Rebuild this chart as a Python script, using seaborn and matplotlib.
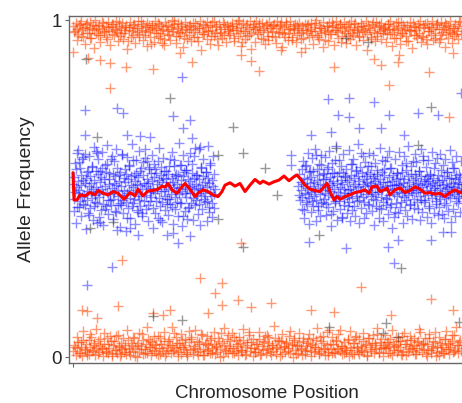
import numpy as np
import pandas as pd
import matplotlib
matplotlib.use("Agg")
import matplotlib.pyplot as plt
import seaborn as sns

sns.set_theme(style="ticks")
plt.rcParams['font.family'] = ['Liberation Sans', 'DejaVu Sans']

# ---------------- data (allele frequency in permille, positions in arbitrary chromosome units) ----------------
# homozygous band near 1 (evenly spaced SNPs along the chromosome)
top_band_span = (0, 389)
top_band_af = [
    982,965,991,974,958,987,996,969,951,979,988,962,975,993,947,984,970,999,961,977,
    986,955,972,990,966,981,943,995,968,978,959,989,973,997,964,983,952,976,992,960,
    971,985,938,980,994,967,956,988,975,963,998,949,982,970,987,957,979,991,965,974,
    930,984,969,996,977,953,989,962,981,972,945,993,966,985,958,978,1000,968,987,954,
    976,990,961,983,971,947,995,964,980,957,986,973,992,950,969,982,939,975,998,963,
    988,959,978,994,966,984,952,971,997,960,981,944,989,974,963,993,956,979,986,968,
    957,983,992,970,948,987,976,999,962,980,935,991,967,985,954,973,996,961,978,989,
    972,996,958,982,969,990,943,977,988,964,953,994,981,966,985,949,975,998,960,984,
    993,964,979,950,987,973,961,996,940,983,970,989,957,976,992,965,981,946,988,971,
    961,987,974,992,955,980,968,999,951,985,977,962,994,971,942,983,966,990,958,979,
    984,970,996,963,978,989,936,975,993,960,982,952,987,969,998,957,974,991,965,980,
    950,991,967,983,974,996,958,986,971,944,989,963,979,995,954,981,968,992,961,976,
    978,959,988,972,997,965,983,947,990,969,977,955,994,962,985,974,939,986,970,993,
    966,992,956,980,971,989,962,998,953,984,975,943,991,968,980,957,996,973,948,985,
    987,973,945,994,964,979,990,958,983,970,996,961,977,952,988,967,982,993,959,975,
]
top_band2_span = (2, 387)
top_band2_af = [
    968,941,985,952,977,929,990,960,946,973,918,983,957,936,995,964,949,979,925,988,
    955,971,938,993,962,944,980,913,969,951,986,933,975,958,997,942,966,922,984,950,
    978,935,961,990,947,970,927,983,956,940,974,998,931,965,953,987,920,972,945,981,
    937,963,992,949,976,910,959,985,943,968,930,994,954,979,926,961,948,989,934,973,
    960,982,939,971,952,996,924,966,944,987,957,915,978,936,963,991,947,969,929,984,
    942,975,953,988,932,964,981,921,958,995,940,972,950,977,934,986,962,945,970,917,
    984,949,967,930,991,956,943,976,919,963,982,938,959,995,926,971,948,987,953,966,
    933,978,945,962,989,927,970,954,983,941,965,912,976,951,994,937,960,985,944,973,
    969,936,988,958,923,974,947,993,930,962,980,952,939,971,916,983,957,946,979,935,
    951,987,928,966,979,942,961,990,934,955,972,920,986,948,964,931,977,958,943,997,
]
# homozygous band near 0
bottom_band_span = (0, 389)
bottom_band_af = [
    18,35,7,26,44,12,29,3,51,22,38,15,9,31,58,20,41,6,27,47,
    14,33,24,2,39,17,55,11,28,46,8,36,21,63,13,30,4,42,25,16,
    37,10,49,23,5,34,19,57,27,1,43,15,32,68,9,24,40,12,52,29,
    6,45,20,36,13,61,26,8,38,17,48,3,31,22,54,11,35,19,72,28,
    41,16,30,9,50,24,37,14,2,44,21,59,10,33,27,47,7,39,18,64,
    25,5,42,19,35,12,56,28,40,8,31,15,46,23,70,4,37,20,53,13,
    32,48,11,27,60,17,38,6,43,22,14,51,29,9,36,75,18,44,3,26,
    15,39,24,52,7,33,20,45,12,66,28,41,5,35,19,57,10,30,48,23,
    47,8,29,16,43,26,62,13,37,1,50,21,34,11,45,27,6,55,18,32,
    20,53,35,4,40,14,30,49,23,9,58,17,42,26,7,36,15,80,24,11,
    38,12,46,25,67,19,33,8,44,28,16,52,3,31,21,41,10,59,27,14,
    9,34,22,48,15,39,5,56,30,18,43,11,36,24,69,13,45,28,2,37,
    26,44,13,31,54,7,40,21,35,16,47,29,10,62,19,38,6,50,23,33,
    51,17,37,10,28,46,22,73,14,41,25,8,39,20,57,12,34,27,45,4,
    30,6,43,19,36,13,52,24,40,9,31,48,15,65,22,37,11,44,18,28,
]
bottom_band2_span = (2, 387)
bottom_band2_af = [
    31,58,12,44,76,23,5,49,67,18,37,84,9,53,28,71,14,40,62,3,
    46,20,65,33,8,55,27,79,15,42,60,2,36,70,24,51,11,88,30,47,
    17,63,39,6,57,26,74,13,48,35,90,21,59,4,43,68,29,52,10,77,
    54,25,81,16,45,69,7,38,61,22,50,13,73,32,56,1,41,86,19,64,
    28,72,11,49,34,58,20,83,6,44,66,27,53,15,39,75,9,47,62,24,
    60,14,37,92,26,51,3,68,32,45,18,78,40,57,10,35,71,23,48,8,
    42,67,19,55,30,85,12,46,63,25,74,5,38,59,16,50,28,80,34,13,
    21,49,76,8,43,61,29,54,17,70,36,2,57,24,66,41,87,15,52,31,
    65,27,45,12,79,33,58,20,48,6,72,39,14,62,26,55,9,44,82,35,
    38,56,4,69,22,47,73,16,60,30,11,53,77,25,42,64,18,89,36,51,
]
# heterozygous SNPs, left region
het_left_span = (0, 142)
het_left_af = [
    512,468,534,491,557,503,445,521,486,578,497,462,540,509,475,526,593,482,515,451,
    530,494,467,552,508,421,537,489,516,472,563,499,447,525,481,610,504,458,543,493,
    476,519,402,533,498,561,484,455,527,506,439,548,491,574,465,512,529,483,452,587,
    501,542,470,517,488,536,431,509,561,477,495,523,456,549,507,482,600,466,531,492,
    518,459,544,487,413,528,496,571,473,510,537,449,503,584,468,521,490,546,437,514,
    485,533,466,509,552,478,498,426,541,515,463,592,506,480,529,452,517,565,489,502,
    547,474,521,496,443,535,488,557,462,513,499,581,471,526,408,540,494,460,518,530,
    492,553,479,506,527,455,544,498,469,587,511,484,532,446,519,503,567,475,538,490,
    461,512,539,484,501,570,457,524,493,536,418,548,486,510,474,555,499,441,527,505,
    523,487,456,545,508,472,531,498,619,466,514,540,481,502,453,528,496,561,477,510,
    497,537,470,519,488,550,463,505,531,444,516,491,576,479,524,458,508,543,485,499,
]
het_left2_span = (1, 141)
het_left2_af = [
    432,575,398,614,446,561,417,589,455,603,381,548,428,597,441,566,406,624,459,553,
    589,415,552,437,607,392,571,448,628,423,545,465,596,409,583,434,618,452,539,387,
    451,602,428,557,374,593,443,568,412,631,456,540,396,586,431,611,447,562,419,578,
    616,439,581,404,558,462,599,384,574,427,547,413,621,449,565,401,592,436,553,468,
    422,567,453,609,395,586,440,543,418,634,458,571,389,598,433,556,410,583,445,604,
    574,407,596,450,539,425,617,392,563,438,588,461,549,403,626,429,570,416,595,442,
]
# heterozygous SNPs, right region
het_right_span = (225, 389)
het_right_af = [
    506,481,543,467,520,495,558,474,512,436,531,488,569,459,502,527,483,549,471,515,
    489,534,462,508,551,477,519,493,598,465,526,501,447,539,484,513,570,458,497,528,
    542,470,511,486,529,455,504,563,480,517,492,535,423,509,547,476,521,498,584,463,
    478,516,537,491,464,550,503,482,526,411,512,545,469,500,533,487,557,474,518,495,
    525,461,499,541,486,572,471,508,530,448,514,490,553,477,503,538,466,521,494,606,
    492,547,474,513,528,459,506,536,483,520,497,566,452,510,543,479,517,489,532,468,
    537,484,522,467,501,555,490,513,442,529,505,476,548,495,518,461,540,508,581,473,
    470,519,496,534,481,509,562,453,523,498,539,485,511,430,527,502,546,477,514,489,
    511,532,461,504,549,487,517,474,529,493,575,466,507,536,481,520,499,455,543,497,
    486,524,501,470,543,512,489,531,459,516,495,552,478,509,538,467,504,585,491,522,
    528,465,513,495,536,480,521,448,507,544,490,516,473,532,501,560,484,511,463,526,
    497,541,478,519,502,469,555,488,525,510,457,537,493,514,476,548,505,482,530,499,
    473,508,532,490,517,561,484,503,527,462,540,496,519,479,512,471,535,501,488,514,
]
het_right2_span = (229, 388)
het_right2_af = [
    438,581,412,566,453,604,395,551,429,592,447,617,403,558,436,573,418,599,460,545,
    593,421,559,445,611,388,577,432,546,458,625,407,584,440,568,415,602,451,538,426,
    449,614,405,572,437,588,419,555,462,631,398,563,443,597,411,580,428,549,455,606,
    567,432,599,391,576,448,542,413,620,439,585,404,557,452,593,425,612,446,561,383,
    414,589,457,546,427,608,444,571,399,595,435,554,418,627,450,566,409,583,441,602,
    579,440,552,406,618,431,597,459,564,416,586,443,541,397,609,428,575,454,591,420,
    446,603,424,569,411,587,452,548,434,615,401,578,439,560,417,596,458,544,429,583,
]

# scattered outliers (position, allele frequency)
orange_out_pos = [0, 15, 27, 37, 53, 80, 37, 119, 107, 89, 168, 178, 186, 261, 301, 308, 326, 325, 316, 356, 376, 380, 208, 228,
                  49, 45, 9, 14, 24, 127, 149, 142, 149, 97, 90, 135, 80, 168, 165, 178, 198, 288, 358, 380, 238, 261, 318]
orange_out_af = [0.905, 0.887, 0.881, 0.872, 0.861, 0.855, 0.798, 0.875, 0.902, 0.932, 0.896, 0.878, 0.849, 0.861, 0.884, 0.866, 0.896, 0.875, 0.807, 0.846, 0.712, 0.902, 0.911, 0.905,
                 0.288, 0.151, 0.139, 0.136, 0.116, 0.234, 0.220, 0.190, 0.154, 0.139, 0.125, 0.130, 0.130, 0.338, 0.169, 0.148, 0.160, 0.208, 0.172, 0.139, 0.139, 0.134, 0.125]

blue_out_pos = [109, 12, 44, 50, 100, 117, 110, 12, 67, 77, 119, 127, 4, 24, 54,
                255, 276, 301, 265, 276, 316, 345, 365, 388, 286, 308, 238, 258, 331, 218, 218,
                24, 44, 57, 65, 94, 100, 105, 117, 39, 14,
                236, 273, 321, 315, 325, 358, 370, 378]
blue_out_af = [0.831, 0.733, 0.739, 0.724, 0.715, 0.703, 0.680, 0.659, 0.656, 0.653, 0.650, 0.623, 0.605, 0.605, 0.659,
               0.766, 0.769, 0.757, 0.718, 0.712, 0.718, 0.724, 0.718, 0.783, 0.680, 0.680, 0.659, 0.668, 0.659, 0.600, 0.570,
               0.397, 0.377, 0.383, 0.362, 0.362, 0.368, 0.338, 0.359, 0.267, 0.214,
               0.341, 0.323, 0.279, 0.326, 0.347, 0.347, 0.371, 0.371]

grey_pos = [13, 97, 24, 145, 160, 170, 192, 204, 263, 358, 345, 273, 295,
            17, 40, 80, 109, 145, 246, 170, 328, 256, 313, 310, 325, 386]
grey_af = [0.884, 0.769, 0.654, 0.600, 0.683, 0.605, 0.560, 0.480, 0.620, 0.742, 0.630, 0.946, 0.935,
           0.383, 0.400, 0.122, 0.110, 0.410, 0.362, 0.326, 0.264, 0.089, 0.100, 0.070, 0.060, 0.104]

# smoothed allele-frequency curve
smooth_pos = [0, 1, 4, 7, 12, 17, 22, 25, 30, 35, 40, 45, 51, 57, 62, 65, 70, 75, 80, 85, 89, 92, 95, 99, 104,
              107, 112, 117, 122, 125, 130, 135, 140, 145, 149, 152, 157, 162, 167, 172, 177, 182, 187, 190,
              196, 201, 206, 211, 216, 221, 224, 227, 232, 237, 242, 247, 254, 257, 261, 264, 267, 272, 277,
              282, 287, 292, 296, 299, 304, 307, 311, 314, 317, 322, 327, 332, 337, 342, 347, 352, 357, 362,
              367, 372, 377, 382, 387, 390]
smooth_af = [0.547, 0.466, 0.466, 0.481, 0.478, 0.488, 0.481, 0.494, 0.486, 0.481, 0.491, 0.486, 0.468, 0.488,
             0.478, 0.498, 0.478, 0.493, 0.494, 0.498, 0.507, 0.504, 0.515, 0.496, 0.486, 0.498, 0.515, 0.498,
             0.476, 0.486, 0.496, 0.491, 0.481, 0.476, 0.491, 0.510, 0.517, 0.507, 0.515, 0.491, 0.510, 0.527,
             0.515, 0.522, 0.513, 0.520, 0.525, 0.537, 0.523, 0.535, 0.540, 0.530, 0.510, 0.498, 0.494, 0.491,
             0.515, 0.491, 0.466, 0.476, 0.468, 0.476, 0.481, 0.488, 0.491, 0.496, 0.486, 0.505, 0.507, 0.491,
             0.496, 0.501, 0.481, 0.496, 0.502, 0.488, 0.494, 0.505, 0.498, 0.486, 0.488, 0.483, 0.486, 0.476,
             0.488, 0.496, 0.488, 0.490]

y_ticks = [0, 1]
y_ticklabels = ["0", "1"]
x_label = "Chromosome Position"
y_label = "Allele Frequency"

# ---------------- build frames ----------------
def band(span, vals):
    return pd.DataFrame({"pos": np.linspace(span[0], span[1], len(vals)),
                         "af": np.asarray(vals) / 1000.0})

orange_bands = [band(top_band_span, top_band_af), band(top_band2_span, top_band2_af),
                band(bottom_band_span, bottom_band_af), band(bottom_band2_span, bottom_band2_af)]
blue_bands = [band(het_left_span, het_left_af), band(het_left2_span, het_left2_af),
              band(het_right_span, het_right_af), band(het_right2_span, het_right2_af)]
orange_out = pd.DataFrame({"pos": orange_out_pos, "af": orange_out_af})
blue_out = pd.DataFrame({"pos": blue_out_pos, "af": blue_out_af})
grey_df = pd.DataFrame({"pos": grey_pos, "af": grey_af})
smooth_df = pd.DataFrame({"pos": smooth_pos, "af": smooth_af})

ORANGE = "#FF4500"
BLUE = "#0000FF"
GREY = "#333333"

fig = plt.figure(figsize=(4.62, 4.03), dpi=100)
ax = fig.add_axes([69 / 462, 40 / 403, (464 - 69) / 462, 347 / 403])

mk = dict(marker="+", s=48, linewidth=1.0, legend=False, ax=ax)
for d in orange_bands:
    sns.scatterplot(data=d, x="pos", y="af", color=ORANGE, alpha=0.55, **mk)
sns.scatterplot(data=orange_out, x="pos", y="af", color=ORANGE, alpha=0.55, **mk)
for d in blue_bands:
    sns.scatterplot(data=d, x="pos", y="af", color=BLUE, alpha=0.45, **mk)
sns.scatterplot(data=blue_out, x="pos", y="af", color=BLUE, alpha=0.45, **mk)
sns.scatterplot(data=grey_df, x="pos", y="af", color=GREY, alpha=0.5, **mk)
sns.lineplot(data=smooth_df, x="pos", y="af", color="#FF0000", linewidth=2.2, ax=ax)
for ln in ax.get_lines():
    ln.set_solid_joinstyle("round")
    ln.set_solid_capstyle("round")

ax.set_xlim(-4, 391)
ax.set_ylim(-0.0178, 1.0119)
ax.set_yticks(y_ticks)
ax.set_yticklabels(y_ticklabels, fontsize=13.5)
ax.set_xticks([0])
ax.set_xticklabels([""])
ax.tick_params(axis="both", length=3, width=0.8, color="#666666", pad=2)
ax.set_xlabel(x_label, fontsize=13.5, labelpad=11)
ax.set_ylabel(y_label, fontsize=14, labelpad=12)
for side in ("left", "top", "bottom"):
    ax.spines[side].set_visible(True)
    ax.spines[side].set_color("#666666")
    ax.spines[side].set_linewidth(1.0)
ax.spines["right"].set_visible(False)
ax.set_facecolor("white")

fig.savefig("out.png", dpi=100)
